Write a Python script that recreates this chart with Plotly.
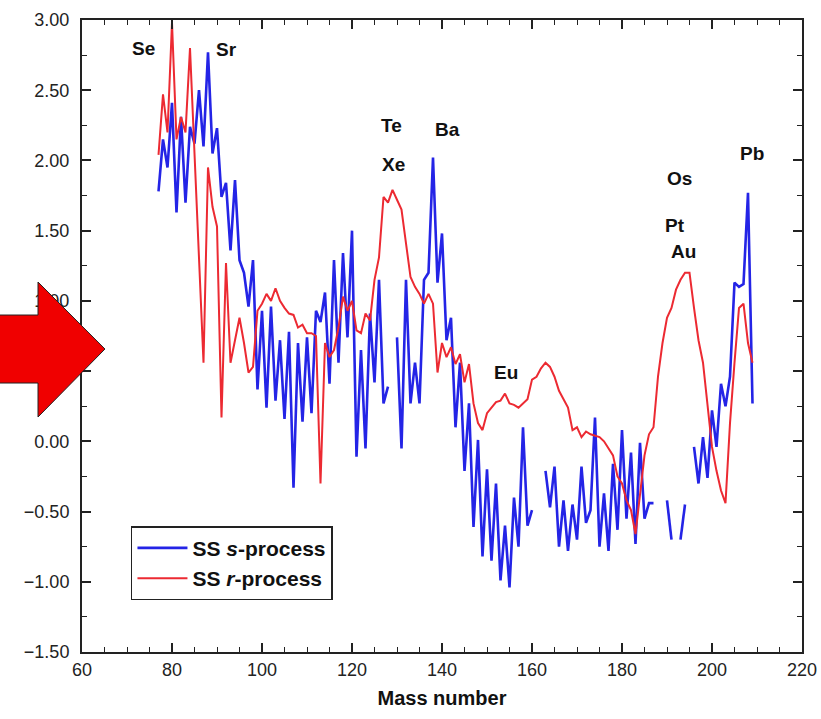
import plotly.graph_objects as go

# ---------------- data ----------------
mass = list(range(77, 210))

s_process = [
    1.78, 2.15, 1.95, 2.41, 1.63, 2.31, 1.70, 2.24, 2.12, 2.50,   # 77-86
    2.10, 2.77, 2.05, 2.23, 1.74, 1.84, 1.36, 1.86, 1.29, 1.20,   # 87-96
    0.96, 1.29, 0.37, 0.93, 0.24, 0.96, 0.29, 0.72, 0.16, 0.78,   # 97-106
    -0.33, 0.70, 0.14, 0.74, 0.20, 0.93, 0.85, 1.06, 0.41, 1.29,  # 107-116
    0.56, 1.34, 0.74, 1.50, -0.11, 0.65, -0.05, 0.91, 0.42, 1.15, # 117-126
    0.27, 0.39, None, 0.74, -0.05, 1.15, 0.27, 0.56, 0.27, 1.15,  # 127-136
    1.20, 2.02, 1.13, 1.48, 0.72, 0.88, 0.10, 0.56, -0.21, 0.27,  # 137-146
    -0.61, 0.01, -0.82, -0.20, -0.85, -0.30, -0.99, -0.60, -1.04, -0.40,  # 147-156
    -0.75, 0.10, -0.60, -0.49, None, None, -0.21, -0.47, -0.18, -0.75,    # 157-166
    -0.42, -0.78, -0.45, -0.70, -0.18, -0.58, -0.49, 0.17, -0.75, -0.37,  # 167-176
    -0.78, -0.16, -0.63, 0.08, -0.55, -0.08, -0.73, -0.01, -0.55, -0.44,  # 177-186
    -0.44, None, None, -0.42, -0.70, None, -0.70, -0.45, None, -0.04,     # 187-196
    -0.30, 0.03, -0.26, 0.22, -0.04, 0.41, 0.25, 0.46, 1.13, 1.10,        # 197-206
    1.12, 1.77, 0.27,                                                      # 207-209
]

r_process = [
    2.04, 2.47, 2.20, 2.98, 2.15, 2.31, 2.20, 2.80, 2.05, 1.30,   # 77-86
    0.56, 1.95, 1.67, 1.53, 0.17, 1.27, 0.56, 0.72, 0.88, 0.70,   # 87-96
    0.49, 0.53, 0.93, 0.98, 1.05, 1.00, 1.09, 1.00, 0.95, 0.91,   # 97-106
    0.90, 0.81, 0.83, 0.77, 0.77, 0.75, -0.30, 0.70, 0.60, 0.65,  # 107-116
    0.81, 1.03, 0.93, 1.00, 0.79, 0.77, 0.91, 0.86, 1.15, 1.31,   # 117-126
    1.74, 1.70, 1.79, 1.72, 1.65, 1.41, 1.17, 1.10, 1.05, 0.98,   # 127-136
    1.05, 0.98, 0.49, 0.70, 0.60, 0.67, 0.55, 0.62, 0.42, 0.55,   # 137-146
    0.27, 0.13, 0.08, 0.20, 0.24, 0.28, 0.29, 0.34, 0.27, 0.26,   # 147-156
    0.24, 0.27, 0.30, 0.44, 0.46, 0.52, 0.56, 0.53, 0.46, 0.36,   # 157-166
    0.30, 0.24, 0.08, 0.10, 0.03, 0.07, 0.05, 0.04, 0.03, 0.00,   # 167-176
    -0.05, -0.10, -0.25, -0.30, -0.42, -0.49, -0.66, -0.40, -0.10, 0.05,  # 177-186
    0.10, 0.46, 0.70, 0.88, 0.95, 1.08, 1.15, 1.20, 1.20, 0.95,   # 187-196
    0.72, 0.56, 0.27, -0.04, -0.21, -0.35, -0.44, 0.13, 0.56, 0.95,  # 197-206
    0.98, 0.70, 0.56,                                              # 207-209
]

element_labels = ["Se", "Sr", "Te", "Xe", "Ba", "Eu", "Os", "Pt", "Au", "Pb"]
label_x = [73.6, 92.0, 128.7, 129.3, 141.3, 154.2, 192.7, 191.8, 193.6, 208.9]
label_y = [2.80, 2.79, 2.25, 1.97, 2.22, 0.49, 1.87, 1.54, 1.35, 2.05]

x_ticks = [60, 80, 100, 120, 140, 160, 180, 200, 220]

FONT = "Liberation Sans, Arial, Helvetica, sans-serif"

fig = go.Figure()
fig.add_trace(go.Scatter(
    x=mass, y=s_process, mode="lines", name="<b>SS <i>s</i>-process</b>",
    line=dict(color="#2424e6", width=2.6), connectgaps=False,
))
fig.add_trace(go.Scatter(
    x=mass, y=r_process, mode="lines", name="<b>SS <i>r</i>-process</b>",
    line=dict(color="#ec2a32", width=2), connectgaps=False,
))

for t, x, y in zip(element_labels, label_x, label_y):
    fig.add_annotation(x=x, y=y, text=f"<b>{t}</b>", showarrow=False,
                       font=dict(family=FONT, size=19, color="#111"))

# red block arrow on the left (paper coordinates)
fig.add_shape(
    type="path", xref="paper", yref="paper", layer="above",
    path="M -0.13,0.5332 L -0.0611,0.5332 L -0.0611,0.5854 L 0.0319,0.4794 "
         "L -0.0611,0.3718 L -0.0611,0.4256 L -0.13,0.4256 Z",
    fillcolor="#f00000", line=dict(color="#222", width=1),
)

axis_common = dict(
    showline=True, linecolor="#222", linewidth=2, mirror="allticks",
    ticks="inside", ticklen=9, tickwidth=1.5, tickcolor="#222",
    showgrid=False, zeroline=False, automargin=False,
    tickfont=dict(family=FONT, size=18, color="#222"),
)

fig.update_xaxes(
    range=[60, 220], tickvals=x_ticks, ticktext=[str(v) for v in x_ticks],
    minor=dict(dtick=5, ticks="inside", ticklen=5, tickcolor="#222", tickwidth=1.2),
    title=dict(text="<b>Mass number</b>", font=dict(family=FONT, size=20, color="#111"),
               standoff=12),
    **axis_common,
)
fig.update_yaxes(
    range=[-1.5, 3.0], dtick=0.5, tick0=-1.5, tickformat=".2f",
    ticklabelstandoff=7,
    minor=dict(dtick=0.25, ticks="inside", ticklen=5, tickcolor="#222", tickwidth=1.2),
    **axis_common,
)

fig.update_layout(
    width=821, height=719,
    margin=dict(l=82, r=19, t=20, b=67, autoexpand=False),
    paper_bgcolor="white", plot_bgcolor="white",
    showlegend=True,
    legend=dict(
        x=0.068, y=0.199, xanchor="left", yanchor="top",
        bgcolor="white", bordercolor="#222", borderwidth=1.5,
        font=dict(family=FONT, size=21, color="#111"),
        tracegroupgap=0, itemwidth=50,
    ),
)

fig.write_html(
    "out.html",
    config={"displayModeBar": False},
    post_script="document.body.style.margin='0';document.body.style.overflow='hidden';",
)
